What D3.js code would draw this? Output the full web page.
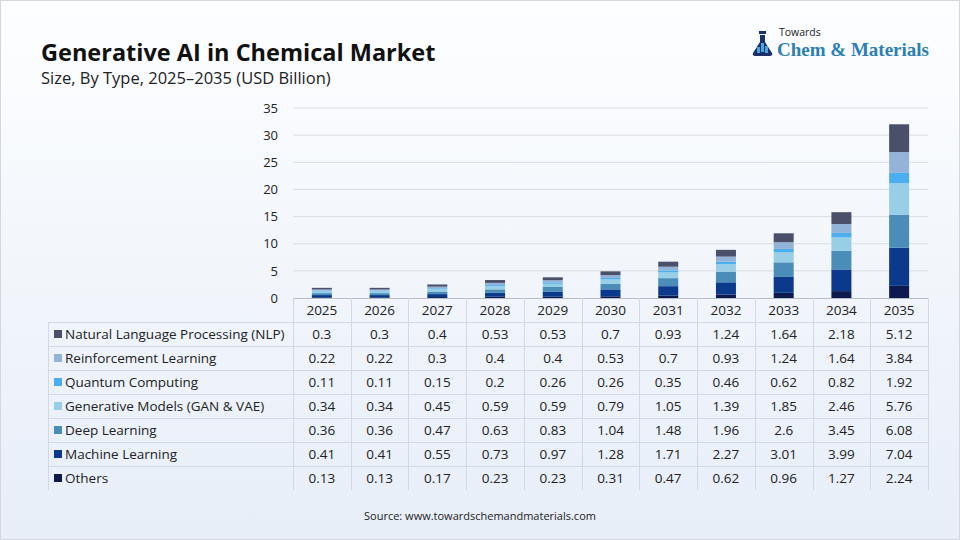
<!DOCTYPE html>
<html>
<head>
<meta charset="utf-8">
<script src="https://cdn.jsdelivr.net/npm/d3@7"></script>
<style>
  body { margin: 0; background: #fff; }
  svg text { font-family: "Open Sans", "Noto Sans", sans-serif; }
</style>
</head>
<body>
<svg id="chart"></svg>
<script>
// data
const years = ["2025", "2026", "2027", "2028", "2029", "2030", "2031", "2032", "2033", "2034", "2035"];
const segments = ["Natural Language Processing (NLP)", "Reinforcement Learning", "Quantum Computing",
  "Generative Models (GAN & VAE)", "Deep Learning", "Machine Learning", "Others"];
const nlp = [0.3, 0.3, 0.4, 0.53, 0.53, 0.7, 0.93, 1.24, 1.64, 2.18, 5.12];
const reinforcement = [0.22, 0.22, 0.3, 0.4, 0.4, 0.53, 0.7, 0.93, 1.24, 1.64, 3.84];
const quantum = [0.11, 0.11, 0.15, 0.2, 0.26, 0.26, 0.35, 0.46, 0.62, 0.82, 1.92];
const generative = [0.34, 0.34, 0.45, 0.59, 0.59, 0.79, 1.05, 1.39, 1.85, 2.46, 5.76];
const deepLearning = [0.36, 0.36, 0.47, 0.63, 0.83, 1.04, 1.48, 1.96, 2.6, 3.45, 6.08];
const machineLearning = [0.41, 0.41, 0.55, 0.73, 0.97, 1.28, 1.71, 2.27, 3.01, 3.99, 7.04];
const others = [0.13, 0.13, 0.17, 0.23, 0.23, 0.31, 0.47, 0.62, 0.96, 1.27, 2.24];
const yTicks = [0, 5, 10, 15, 20, 25, 30, 35];
const colors = ["#4a5069", "#93b3d8", "#4caeee", "#98cfe6", "#4a8db8", "#0b3a8c", "#0d1a4f"];

const seriesValues = [nlp, reinforcement, quantum, generative, deepLearning, machineLearning, others];

const W = 960, H = 540;
const svg = d3.select("#chart").attr("width", W).attr("height", H);

// background
const defs = svg.append("defs");
const grad = defs.append("linearGradient").attr("id", "bg").attr("x1", 0).attr("y1", 0).attr("x2", 0).attr("y2", 1);
grad.append("stop").attr("offset", "0%").attr("stop-color", "#fdfeff");
grad.append("stop").attr("offset", "100%").attr("stop-color", "#e7eef8");
svg.append("rect").attr("width", W).attr("height", H).attr("fill", "url(#bg)");
svg.append("rect").attr("x", 0.5).attr("y", 0.5).attr("width", W - 1).attr("height", H - 1)
  .attr("fill", "none").attr("stroke", "#d4d8de");

// titles
svg.append("text").attr("x", 41).attr("y", 61)
  .style("font-size", "23.5px").style("font-weight", "700").attr("fill", "#111")
  .text("Generative AI in Chemical Market");
svg.append("text").attr("x", 41).attr("y", 84)
  .style("font-size", "16.5px").attr("fill", "#222")
  .text("Size, By Type, 2025\u20132035 (USD Billion)");

// logo
const logo = svg.append("g").attr("transform", "translate(753,31)");
logo.append("rect").attr("x", 6).attr("y", 0).attr("width", 7).attr("height", 3).attr("fill", "#1a2f6e");
logo.append("path").attr("d", "M7,4 L12,4 L12,11 L19,22 Q20,25 17,25 L2,25 Q-1,25 0,22 L7,11 Z").attr("fill", "#1a2f6e");
logo.append("path").attr("d", "M8,12 L11,12 L11,21 L8,21 Z M4,16 L7,16 L7,22 L4,22 Z M12,15 L15,15 L15,22 L12,22 Z").attr("fill", "#4aa6d8");
logo.append("text").attr("x", 26).attr("y", 5).style("font-size", "10.5px").attr("fill", "#222").text("Towards");
logo.append("text").attr("x", 24).attr("y", 25)
  .style("font-family", "'Liberation Serif', 'DejaVu Serif', serif").style("font-size", "19px")
  .style("font-weight", "600")
  .attr("fill", "#2b80b3").text("Chem & Materials");

// layout
const plotLeft = 293, plotRight = 928, plotTop = 108, base = 298;
const rowH = 24, tableLeft = 48;

const x = d3.scaleBand().domain(years).range([plotLeft, plotRight]);
const y = d3.scaleLinear().domain([0, 35]).range([base, plotTop]);

// grid
svg.append("g").selectAll("line").data(yTicks.filter(d => d > 0)).join("line")
  .attr("x1", plotLeft).attr("x2", plotRight)
  .attr("y1", d => y(d)).attr("y2", d => y(d))
  .attr("stroke", "#d9dde3");

const yAxis = svg.append("g").attr("transform", `translate(${plotLeft - 15},0)`)
  .call(d3.axisLeft(y).tickValues(yTicks).tickSize(0).tickPadding(0));
yAxis.select(".domain").remove();
yAxis.selectAll("text").style("font-size", "13px").attr("fill", "#222")
  .style("font-family", "'Open Sans', sans-serif");

// stacked bars (Others at bottom, NLP at top)
const tableData = years.map((yr, i) => {
  const row = { year: yr };
  segments.forEach((s, j) => row[s] = seriesValues[j][i]);
  return row;
});
const stackKeys = segments.slice().reverse();
const stacked = d3.stack().keys(stackKeys)(tableData);
const barW = 20;

svg.append("g").selectAll("g").data(stacked).join("g")
  .attr("fill", d => colors[segments.indexOf(d.key)])
  .selectAll("rect").data(d => d).join("rect")
  .attr("x", d => x(d.data.year) + x.bandwidth() / 2 - barW / 2)
  .attr("width", barW)
  .attr("y", d => y(d[1]))
  .attr("height", d => y(d[0]) - y(d[1]));

// table
const table = svg.append("g");
const lineColor = "#d3d9e2";
const nRows = segments.length;
const tableBottom = base + rowH * (nRows + 1);

// baseline / header top
table.append("line").attr("x1", plotLeft).attr("x2", plotRight).attr("y1", base + 0.5).attr("y2", base + 0.5)
  .attr("stroke", "#b8bec8");
// horizontal row lines
table.selectAll(".hline").data(d3.range(1, nRows + 1)).join("line")
  .attr("class", "hline")
  .attr("x1", tableLeft).attr("x2", plotRight)
  .attr("y1", d => base + rowH * d + 0.5).attr("y2", d => base + rowH * d + 0.5)
  .attr("stroke", lineColor);
// vertical column lines
table.selectAll(".vline").data(years.concat(["end"])).join("line")
  .attr("class", "vline")
  .attr("x1", (d, i) => Math.round(plotLeft + x.bandwidth() * i) + 0.5)
  .attr("x2", (d, i) => Math.round(plotLeft + x.bandwidth() * i) + 0.5)
  .attr("y1", base).attr("y2", tableBottom)
  .attr("stroke", lineColor);
table.append("line").attr("x1", tableLeft + 0.5).attr("x2", tableLeft + 0.5)
  .attr("y1", base + rowH).attr("y2", tableBottom).attr("stroke", lineColor);

// year header
table.selectAll(".yr").data(years).join("text")
  .attr("class", "yr")
  .attr("x", d => x(d) + x.bandwidth() / 2).attr("y", base + rowH / 2 + 5)
  .attr("text-anchor", "middle").style("font-size", "13.5px").attr("fill", "#222")
  .text(d => d);

// rows
segments.forEach((s, j) => {
  const cy = base + rowH * (j + 1) + rowH / 2;
  table.append("rect").attr("x", 54).attr("y", cy - 4).attr("width", 8).attr("height", 8)
    .attr("fill", colors[j]);
  table.append("text").attr("x", 65).attr("y", cy + 5)
    .style("font-size", "13.5px").attr("fill", "#222").text(s);
  table.selectAll(".v" + j).data(seriesValues[j]).join("text")
    .attr("x", (d, i) => x(years[i]) + x.bandwidth() / 2).attr("y", cy + 5)
    .attr("text-anchor", "middle").style("font-size", "13.5px").attr("fill", "#222")
    .text(d => d);
});

// source
svg.append("text").attr("x", 480).attr("y", 520).attr("text-anchor", "middle")
  .style("font-size", "11px").attr("fill", "#222")
  .text("Source: www.towardschemandmaterials.com");
</script>
</body>
</html>
